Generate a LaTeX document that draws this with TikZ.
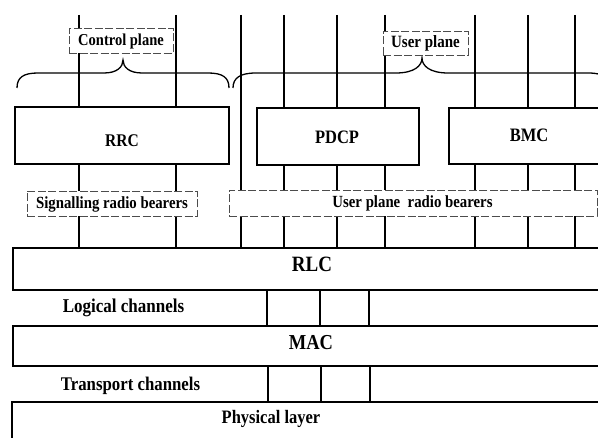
\documentclass[tikz,border=0pt]{standalone}
\usepackage{fontspec}
\usepackage{graphicx}
\setmainfont{Liberation Serif}
\newcommand{\tallbf}[1]{\scalebox{1}[1.15]{#1}}
\begin{document}
\begin{tikzpicture}[x=1pt,y=-1pt,
  ln/.style={line width=1.9pt},
  brace/.style={line width=1.3pt},
  box/.style={draw, line width=1.9pt, rectangle, inner sep=0pt},
  dbox/.style={draw=black!70, fill=white, line width=0.8pt, dash pattern=on 8pt off 2.5pt, rectangle, inner sep=0pt},
  txt/.style={font=\bfseries\fontsize{#1}{#1}\selectfont, inner sep=0pt}]
\useasboundingbox (0,0) rectangle (598,438);
\clip (0,0) rectangle (598,438);

% layer boxes
\node[box, minimum width=214pt, minimum height=57pt] (rrc) at (122,135.5) {};
\node[box, minimum width=162pt, minimum height=57pt] (pdcp) at (338,136.5) {};
\node[box, minimum width=191pt, minimum height=56pt] (bmc) at (544.5,136) {};
\node[box, minimum width=627pt, minimum height=42pt] (rlc) at (326.5,269) {};
\node[box, minimum width=627pt, minimum height=40pt] (mac) at (326.5,346) {};
\node[box, minimum width=628pt, minimum height=58pt] (phy) at (326,431) {};

% top line start points
\foreach \i in {79,176,241,284,337,385,475,528,575}
  \coordinate (t\i) at (\i,15);

% vertical connectors
\foreach \i in {79,176} {
  \draw[ln] (t\i) -- (t\i |- rrc.north);
  \draw[ln] (t\i |- rrc.south) -- (t\i |- rlc.north);
}
\draw[ln] (t241) -- (t241 |- rlc.north);
\foreach \i in {284,337,385} {
  \draw[ln] (t\i) -- (t\i |- pdcp.north);
  \draw[ln] (t\i |- pdcp.south) -- (t\i |- rlc.north);
}
\foreach \i in {475,528,575} {
  \draw[ln] (t\i) -- (t\i |- bmc.north);
  \draw[ln] (t\i |- bmc.south) -- (t\i |- rlc.north);
}
\foreach \i in {267,320,369}
  \draw[ln] (rlc.south -| \i,0) -- (mac.north -| \i,0);
\foreach \i in {268,321,370}
  \draw[ln] (mac.south -| \i,0) -- (phy.north -| \i,0);

% braces
\draw[brace] (17,88) .. controls (17,77) and (24,73) .. (38,73) -- (104,73)
  .. controls (117,73) and (123,67) .. (123,60)
  .. controls (123,67) and (129,73) .. (142,73) -- (208,73)
  .. controls (222,73) and (229,77) .. (229,88);
\draw[brace] (233,88) .. controls (233,78) and (240,73) .. (256,73) -- (396,73)
  .. controls (414,73) and (422,66) .. (422,58)
  .. controls (422,66) and (430,73) .. (448,73) -- (588,73)
  .. controls (604,73) and (611,78) .. (611,88);

% dashed label boxes
\node[dbox, minimum width=104pt, minimum height=25pt] (cp) at (121,40.5) {};
\node[txt=14.5] (cptext) at (121,41) {\tallbf{Control plane}};
\node[dbox, minimum width=85pt, minimum height=24pt] (up) at (425.5,43) {};
\node[txt=15] (uptext) at (425.5,43.5) {\tallbf{User plane}};
\node[dbox, minimum width=170pt, minimum height=25pt] (srb) at (112,203.5) {};
\node[txt=14.8] (srbtext) at (112,204) {\tallbf{Signalling radio bearers}};
\node[dbox, minimum width=368pt, minimum height=26pt] (uprb) at (413,203) {};
\node[txt=14.8] (uprbtext) at (412.5,203.5) {\tallbf{User plane\ \ radio bearers}};

% box texts
\node[txt=15.5] (rrctext) at (122,141) {\tallbf{RRC}};
\node[txt=16.5] (pdcptext) at (337,137) {\tallbf{PDCP}};
\node[txt=16.5] (bmctext) at (529,135) {\tallbf{BMC}};
\node[txt=19] (rlctext) at (312,264.5) {\tallbf{RLC}};
\node[txt=18.5] (mactext) at (311,342.5) {\tallbf{MAC}};
\node[txt=16.5] (phytext) at (271,418.5) {\tallbf{Physical layer}};
\node[txt=17] (logtext) at (123.5,308) {\tallbf{Logical channels}};
\node[txt=16.8] (trtext) at (130.5,385.5) {\tallbf{Transport channels}};
\end{tikzpicture}
\end{document}
